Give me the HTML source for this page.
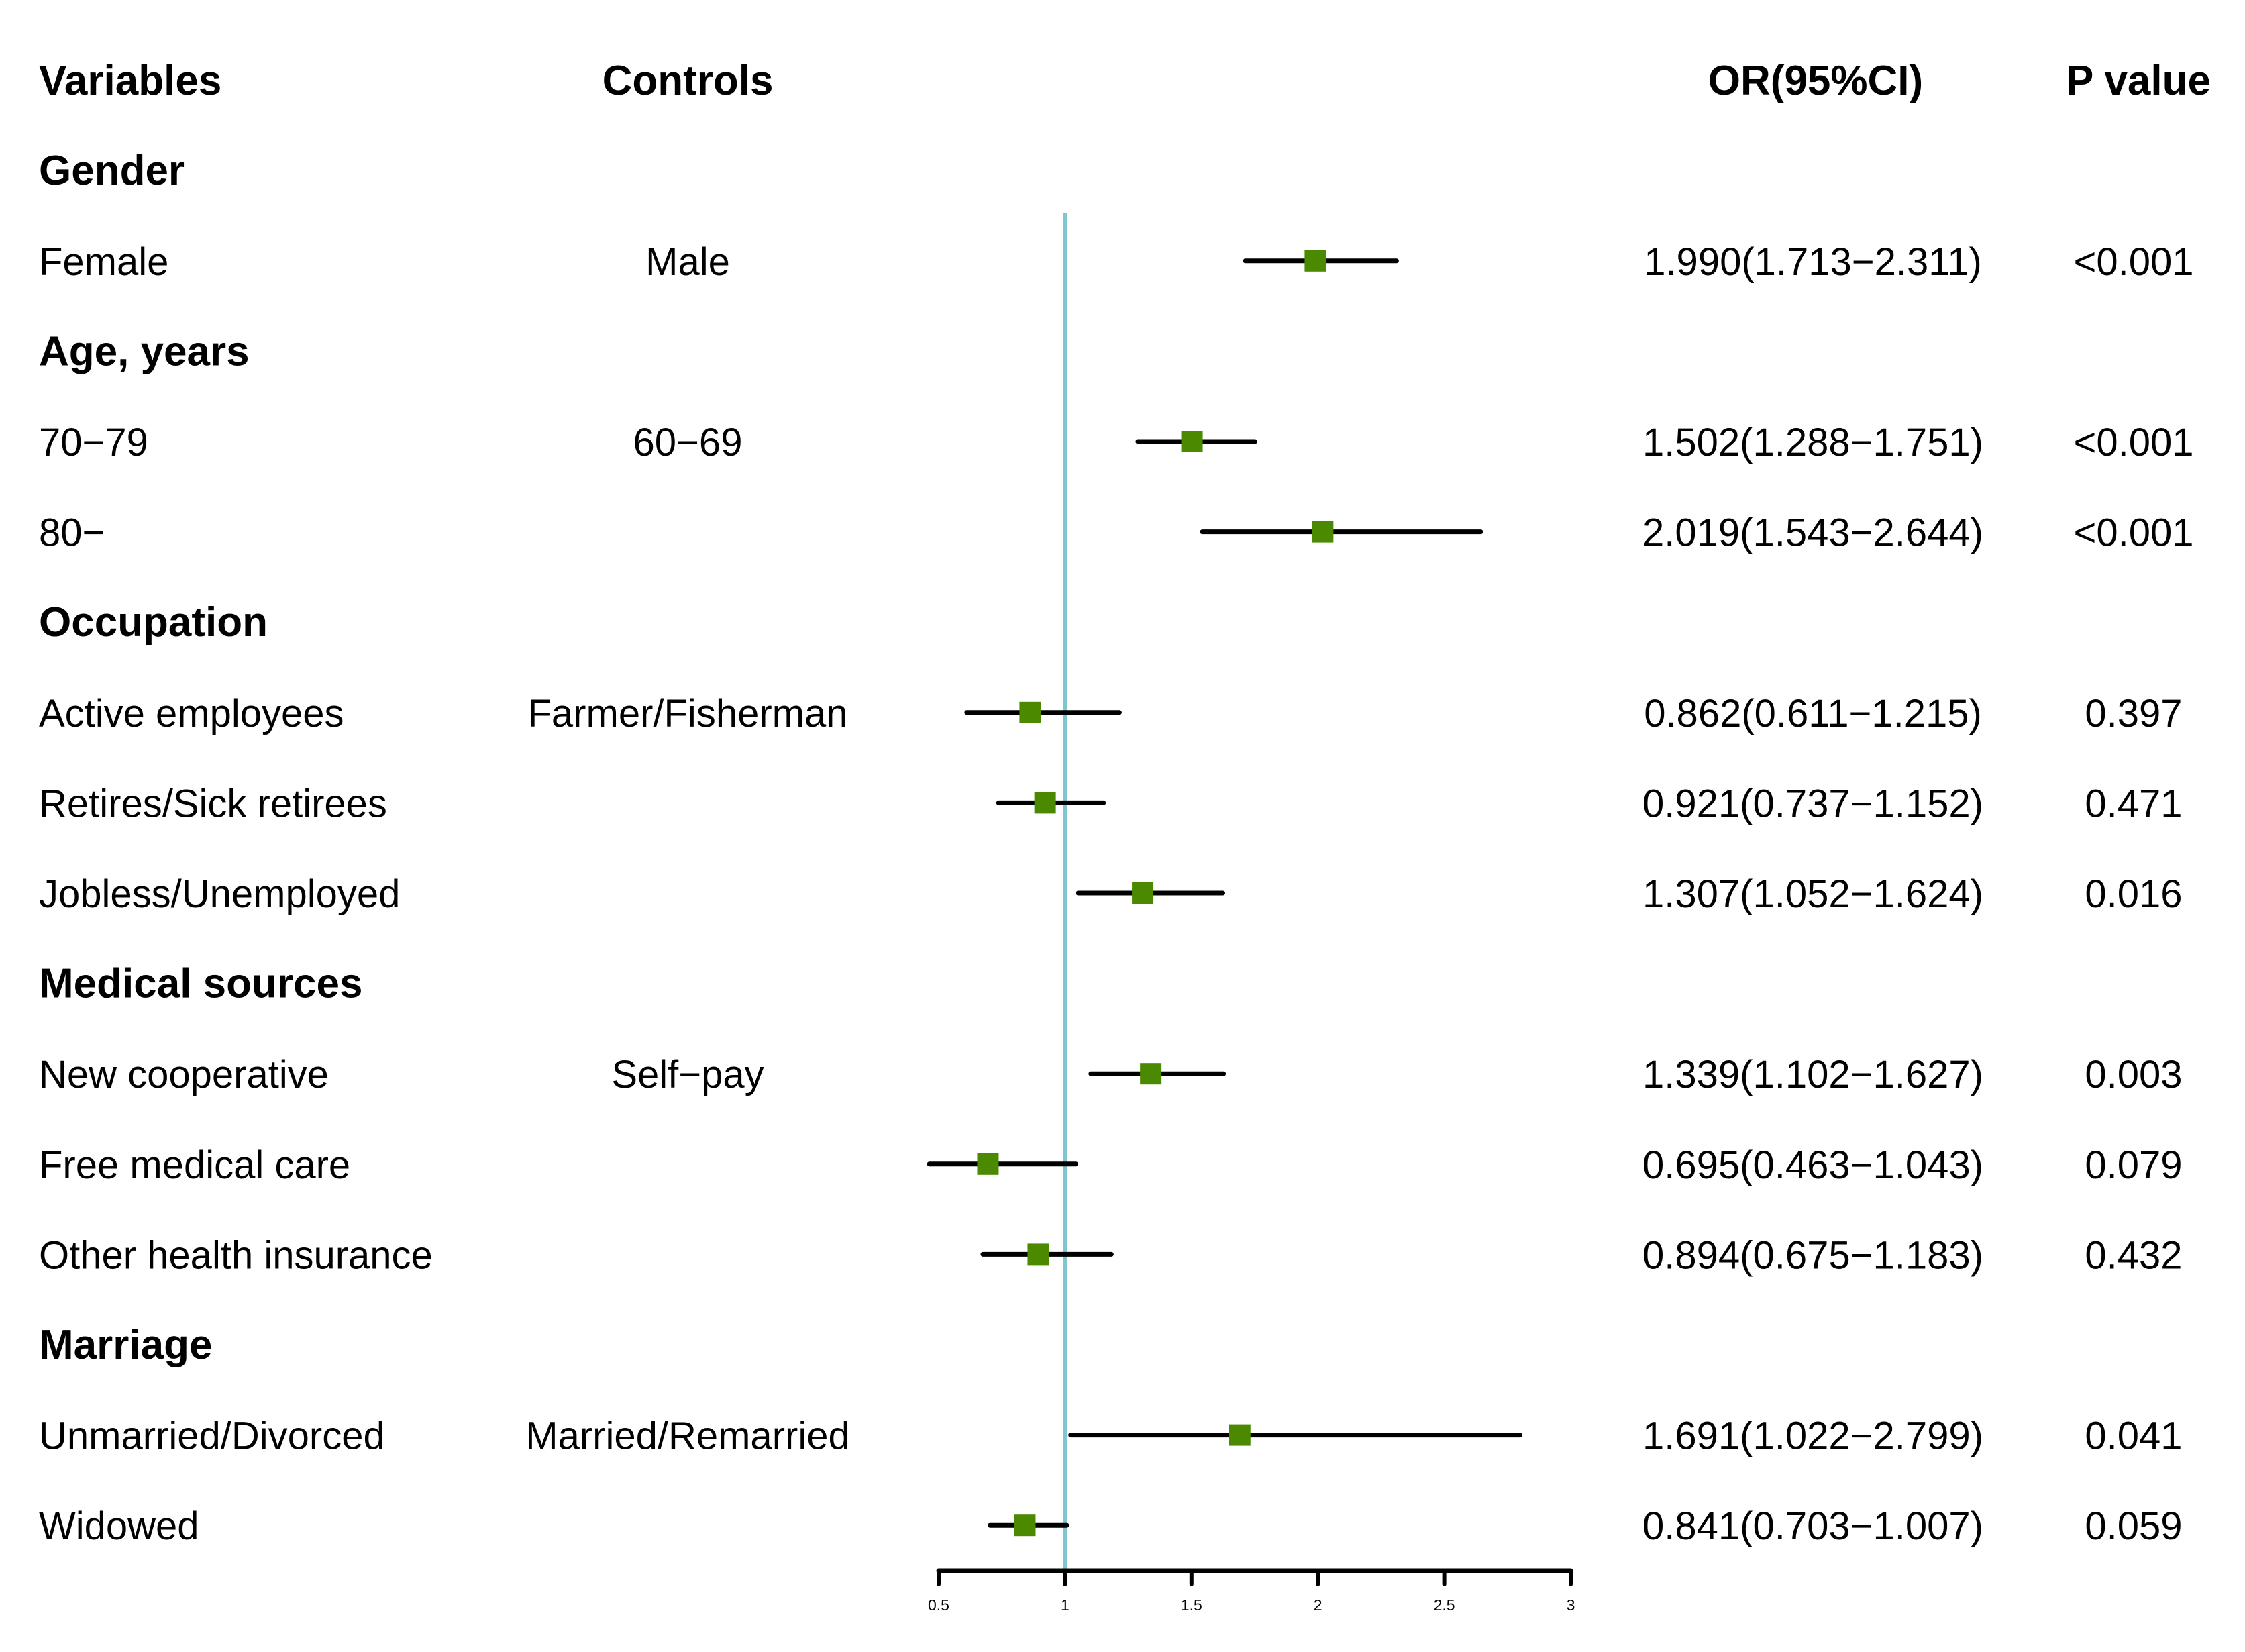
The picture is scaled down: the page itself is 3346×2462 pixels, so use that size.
<!DOCTYPE html>
<html><head><meta charset="utf-8"><style>
html,body{margin:0;padding:0;background:#fff;}
svg{display:block;font-family:"Liberation Sans",Arial,sans-serif;}
</style></head><body>
<svg id="chart" width="3346" height="2462" viewBox="0 0 3346 2462" xmlns="http://www.w3.org/2000/svg">
<g id="hdr" font-weight="bold" font-size="62">
<text x="58" y="141">Variables</text>
<text x="1025" y="141" text-anchor="middle">Controls</text>
<text x="2706" y="141" text-anchor="middle">OR(95%CI)</text>
<text x="3187" y="141" text-anchor="middle">P value</text>
</g>
<g id="rows"></g>
<g id="axis"></g>
</svg>
<script>
const labels = ["Gender","Female","Age, years","70−79","80−","Occupation","Active employees","Retires/Sick retirees","Jobless/Unemployed","Medical sources","New cooperative","Free medical care","Other health insurance","Marriage","Unmarried/Divorced","Widowed"];
const isGroup = [1,0,1,0,0,1,0,0,0,1,0,0,0,1,0,0];
const controls = ["","Male","","60−69","","","Farmer/Fisherman","","","","Self−pay","","","","Married/Remarried",""];
const orVals = [null,1.990,null,1.502,2.019,null,0.862,0.921,1.307,null,1.339,0.695,0.894,null,1.691,0.841];
const lowVals = [null,1.713,null,1.288,1.543,null,0.611,0.737,1.052,null,1.102,0.463,0.675,null,1.022,0.703];
const highVals = [null,2.311,null,1.751,2.644,null,1.215,1.152,1.624,null,1.627,1.043,1.183,null,2.799,1.007];
const pVals = ["","<0.001","","<0.001","<0.001","","0.397","0.471","0.016","","0.003","0.079","0.432","","0.041","0.059"];
const ticks = [0.5,1,1.5,2,2.5,3];
const tickLabels = ["0.5","1","1.5","2","2.5","3"];
const refValue = 1;

const NS="http://www.w3.org/2000/svg";
const X0=1399, X1=2341, XMIN=0.5, XMAX=3;
function xs(v){return X0+(v-XMIN)/(XMAX-XMIN)*(X1-X0);}
function ys(i){return 254.2+i*134.6;}
function mk(tag,attrs,parent){const e=document.createElementNS(NS,tag);for(const k in attrs)e.setAttribute(k,attrs[k]);parent.appendChild(e);return e;}
const rows=document.getElementById('rows');
const axisG=document.getElementById('axis');
const axisY=2341;
const ref=mk('line',{x1:xs(refValue),x2:xs(refValue),y1:318,y2:axisY,stroke:'#7cc7d0','stroke-width':6},rows);


labels.forEach((lab,i)=>{
  const y=ys(i);
  const t=mk('text',{x:58,y:y+21,'font-size':isGroup[i]?62:58,'font-weight':isGroup[i]?'bold':'normal'},rows);
  t.textContent=lab;
  
  
  if(controls[i]){
    const c=mk('text',{x:1025,y:y+21,'font-size':58,'text-anchor':'middle'},rows);
    c.textContent=controls[i];
    
    
  }
  if(orVals[i]!==null){
    const l=mk('line',{x1:xs(lowVals[i]),x2:xs(highVals[i]),y1:y,y2:y,stroke:'#000','stroke-width':7,'stroke-linecap':'round'},rows);
    
    
    const s=mk('rect',{x:xs(orVals[i])-16,y:y-16,width:32,height:32,fill:'#4b8a00'},rows);
    
    
    const o=mk('text',{x:2702,y:y+21,'font-size':58,'text-anchor':'middle'},rows);
    o.textContent=orVals[i].toFixed(3)+'('+lowVals[i].toFixed(3)+'−'+highVals[i].toFixed(3)+')';
    
    
    const p=mk('text',{x:3180,y:y+21,'font-size':58,'text-anchor':'middle'},rows);
    p.textContent=pVals[i];
    
    
  }
});
const al=mk('line',{x1:xs(ticks[0]),x2:xs(ticks[ticks.length-1]),y1:axisY,y2:axisY,stroke:'#000','stroke-width':7,'stroke-linecap':'round'},axisG);


ticks.forEach((v,i)=>{
  const tk=mk('line',{x1:xs(v),x2:xs(v),y1:axisY,y2:axisY+20,stroke:'#000','stroke-width':6,'stroke-linecap':'round'},axisG);
  
  
  const tl=mk('text',{x:xs(v),y:2400,'font-size':23,'text-anchor':'middle'},axisG);
  tl.textContent=tickLabels[i];
  
  
});
</script>
</body></html>
